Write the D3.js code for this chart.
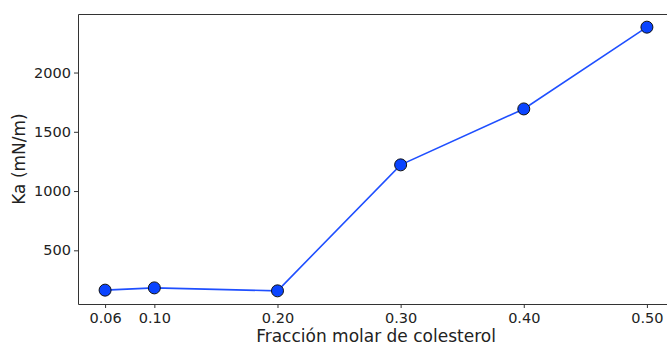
<!DOCTYPE html>
<html>
<head>
<meta charset="utf-8">
<script src="https://cdn.jsdelivr.net/npm/d3@7"></script>
<style>
  body { margin: 0; background: #fff; }
  svg { display: block; font-family: "DejaVu Sans", sans-serif; }
  .tick text { font-size: 14.5px; fill: #222; font-family: "DejaVu Sans", sans-serif; }
  .tick line { stroke: #333; }
  .spine { stroke: #333; stroke-width: 1; }
</style>
</head>
<body>
<div id="chart"></div>
<script>
const fractions = [0.06, 0.10, 0.20, 0.30, 0.40, 0.50];
const ka = [164, 183, 158, 1221, 1693, 2383];
const xTicks = [0.06, 0.10, 0.20, 0.30, 0.40, 0.50];
const yTicks = [500, 1000, 1500, 2000];

const W = 667, H = 345;
const margin = { top: 14, right: -7, bottom: 41, left: 78 };

const svg = d3.select('#chart').append('svg')
  .attr('width', W)
  .attr('height', H);

const x = d3.scaleLinear()
  .domain([0.038, 0.522])
  .range([margin.left, W - margin.right]);
const y = d3.scaleLinear()
  .domain([47, 2494])
  .range([H - margin.bottom, margin.top]);

const x0 = margin.left + 0.5, yb = H - margin.bottom + 0.5, yt = margin.top + 0.5;

// spines: left, bottom, top (right one is off the window)
svg.append('path')
  .attr('class', 'spine')
  .attr('fill', 'none')
  .attr('d', `M${W},${yt}H${x0}V${yb}H${W}`);

const xAxis = svg.append('g')
  .attr('transform', `translate(0,${H - margin.bottom})`)
  .call(d3.axisBottom(x).tickValues(xTicks).tickFormat(d3.format('.2f')).tickSize(4).tickPadding(5));
xAxis.select('.domain').remove();

const yAxis = svg.append('g')
  .attr('transform', `translate(${margin.left},0)`)
  .call(d3.axisLeft(y).tickValues(yTicks).tickFormat(d3.format('d')).tickSize(4).tickPadding(3));
yAxis.select('.domain').remove();

const pts = fractions.map((f, i) => [f, ka[i]]);

svg.append('path')
  .datum(pts)
  .attr('fill', 'none')
  .attr('stroke', '#1f4fff')
  .attr('stroke-width', 1.6)
  .attr('d', d3.line().x(d => x(d[0])).y(d => y(d[1])));

svg.append('g')
  .selectAll('circle')
  .data(pts)
  .join('circle')
  .attr('cx', d => x(d[0]))
  .attr('cy', d => y(d[1]))
  .attr('r', 6)
  .attr('fill', '#0a44ff')
  .attr('stroke', '#111')
  .attr('stroke-width', 1);

svg.append('text')
  .attr('x', 376)
  .attr('y', 342)
  .attr('text-anchor', 'middle')
  .attr('font-size', 17)
  .attr('fill', '#222')
  .text('Fracción molar de colesterol');

svg.append('text')
  .attr('transform', `translate(25,${(margin.top + H - margin.bottom) / 2}) rotate(-90)`)
  .attr('text-anchor', 'middle')
  .attr('font-size', 17)
  .attr('fill', '#222')
  .text('Ka (mN/m)');
</script>
</body>
</html>
